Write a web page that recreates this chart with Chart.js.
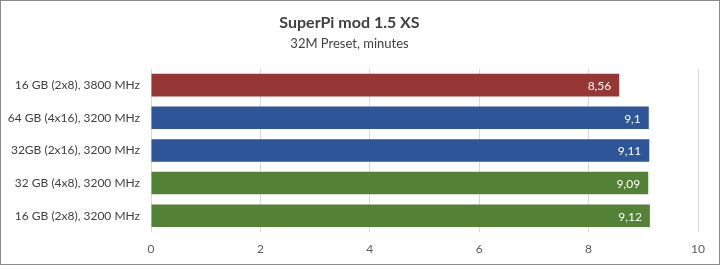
<!DOCTYPE html>
<html>
<head>
<meta charset="utf-8">
<script src="https://cdn.jsdelivr.net/npm/chart.js@4.4.1/dist/chart.umd.min.js"></script>
<style>
  html, body { margin: 0; padding: 0; background: #fff; }
  #wrap { width: 718px; height: 263px; border: 1px solid #8c8c8c; }
</style>
</head>
<body>
<div id="wrap"><canvas id="chart" width="718" height="263"></canvas></div>
<script>
// data
const configs = [
    '16 GB (2x8), 3800 MHz',
    '64 GB (4x16), 3200 MHz',
    '32GB (2x16), 3200 MHz',
    '32 GB (4x8), 3200 MHz',
    '16 GB (2x8), 3200 MHz'
];
const minutes = [8.56, 9.1, 9.11, 9.09, 9.12];
const barColors = ['#963735', '#2e5597', '#2e5597', '#538135', '#538135'];

const fontFamily = 'Lato, "Open Sans", sans-serif';

// white value labels near the end of each bar
const valueLabels = {
    id: 'valueLabels',
    afterDatasetsDraw(chart) {
        let ctx = chart.ctx;
        let meta = chart.getDatasetMeta(0);
        ctx.save();
        ctx.fillStyle = '#ffffff';
        ctx.font = '12px ' + fontFamily;
        ctx.textAlign = 'right';
        ctx.textBaseline = 'middle';
        meta.data.forEach((bar, i) => {
            let txt = String(minutes[i]).replace('.', ',');
            ctx.fillText(txt, bar.x - 8, bar.y + 1);
        });
        ctx.restore();
    }
};

let canvas = document.getElementById('chart');
let chart = new Chart(canvas, {
    type: 'bar',
    data: {
        labels: configs,
        datasets: [{
            data: minutes,
            backgroundColor: barColors,
            barPercentage: 0.69,
            categoryPercentage: 1.0
        }]
    },
    options: {
        indexAxis: 'y',
        responsive: false,
        animation: false,
        layout: {
            padding: {top: 0, right: 21, bottom: 0, left: 0}
        },
        plugins: {
            legend: {display: false},
            tooltip: {enabled: false},
            title: {
                display: true,
                text: 'SuperPi mod 1.5 XS',
                color: '#404040',
                font: {family: fontFamily, size: 16, weight: 'bold'},
                padding: {top: 12, bottom: 4}
            },
            subtitle: {
                display: true,
                text: '32M Preset, minutes',
                color: '#404040',
                font: {family: fontFamily, size: 13},
                padding: {top: 0, bottom: 17}
            }
        },
        scales: {
            x: {
                min: 0,
                max: 10,
                ticks: {
                    stepSize: 2,
                    color: '#595959',
                    font: {family: fontFamily, size: 12},
                    padding: 10
                },
                grid: {color: '#d9d9d9', drawTicks: false},
                border: {display: false},
                afterFit(scale) {
                    scale.height = 32;
                }
            },
            y: {
                ticks: {
                    color: '#404040',
                    font: {family: fontFamily, size: 12},
                    padding: 11
                },
                grid: {display: false, drawTicks: false},
                border: {display: false},
                afterFit(scale) {
                    scale.width = 150;
                }
            }
        }
    },
    plugins: [valueLabels]
});
</script>
</body>
</html>
